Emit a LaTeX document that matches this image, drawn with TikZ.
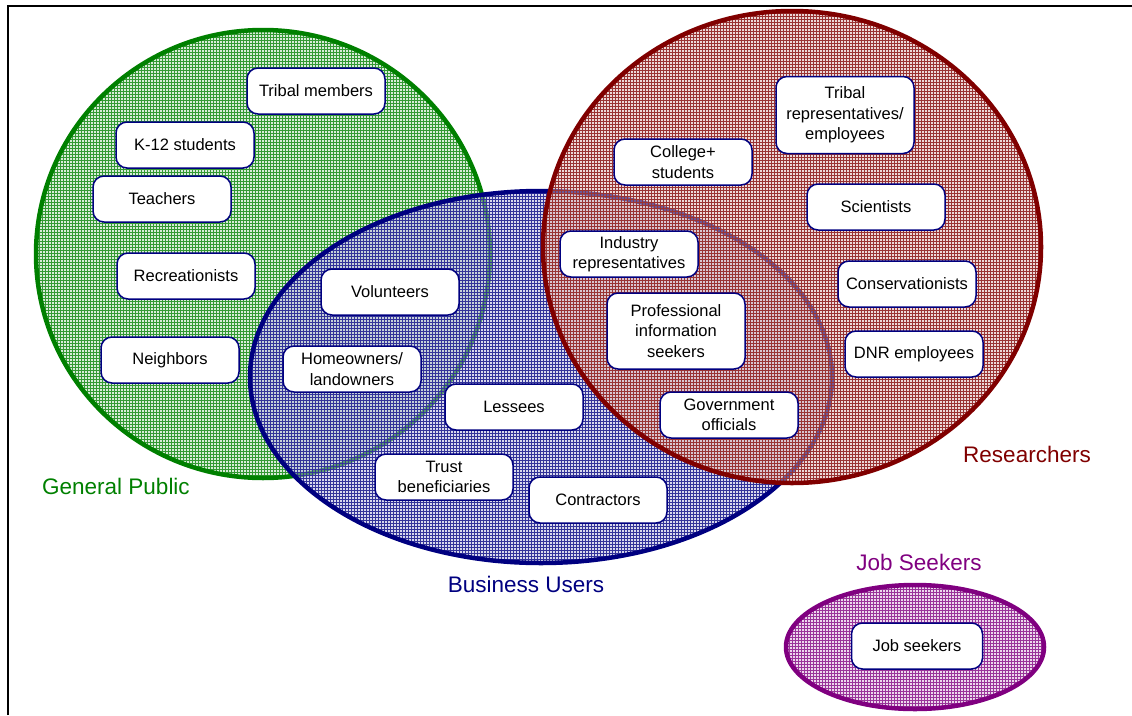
\documentclass[tikz,border=0pt]{standalone}
\usepackage{fontspec}
\setmainfont{Liberation Sans}
\usetikzlibrary{patterns}

\definecolor{gpgreen}{RGB}{0,128,0}
\definecolor{bunavy}{RGB}{0,0,128}
\definecolor{rsred}{RGB}{128,0,0}
\definecolor{jspurple}{RGB}{128,0,128}

% one audience set: tinted fill, grid hatching, thick outline
\newcommand{\audienceset}[4]{%
  \fill[#1!30, fill opacity=0.5] #2 ellipse [x radius=#3, y radius=#4];
  \fill[pattern=grid, pattern color=#1!80, fill opacity=0.35] #2 ellipse [x radius=#3, y radius=#4];
  \draw[#1, line width=4.5pt] #2 ellipse [x radius=#3, y radius=#4];}

\begin{document}
\begin{tikzpicture}[x=1pt, y=-1pt,
    member/.style={draw=bunavy, line width=1.5pt, fill=white, rounded corners=11pt,
      minimum width=138pt, minimum height=46pt, inner sep=2pt, align=center,
      font=\fontsize{16.5}{20.5}\selectfont},
    setname/.style={font=\fontsize{22.5}{26}\selectfont}]
  \useasboundingbox (0,0) rectangle (1132,715);

  % frame lines
  \draw[line width=2pt] (8,715) -- (8,6) -- (1132,6);

  % the four sets
  \audienceset{gpgreen}{(263,254)}{227}{224}
  \audienceset{bunavy}{(541,377)}{291}{186}
  \audienceset{rsred}{(792,247)}{249}{236}
  \audienceset{jspurple}{(915,647)}{129}{62}

  % set names
  \node[setname, text=gpgreen] (public) at (116,486) {General Public};
  \node[setname, text=bunavy] (business) at (526,584) {Business Users};
  \node[setname, text=rsred] (research) at (1027,454) {Researchers};
  \node[setname, text=jspurple] (jobs) at (919,562) {Job Seekers};

  % General Public
  \node[member] (tribal) at (316,91) {Tribal members};
  \node[member] (k12) at (185,145) {K-12 students};
  \node[member] (teachers) at (162,199) {Teachers};
  \node[member] (recreation) at (186,276) {Recreationists};
  \node[member] (neighbors) at (170,360) {Neighbors};

  % General Public + Business Users
  \node[member] (volunteers) at (390,292) {Volunteers};
  \node[member] (owners) at (352,369) {Homeowners/\\landowners};

  % Business Users
  \node[member] (lessees) at (514,407) {Lessees};
  \node[member] (trust) at (444,477) {Trust\\beneficiaries};
  \node[member] (contractors) at (598,500) {Contractors};

  % Business Users + Researchers
  \node[member] (industry) at (629,254) {Industry\\representatives};
  \node[member, minimum height=76pt] (infoseek) at (676,331) {Professional\\information\\seekers};
  \node[member] (government) at (729,415) {Government\\officials};

  % Researchers
  \node[member] (college) at (683,162) {College+\\students};
  \node[member, minimum height=77pt] (tribalrep) at (845,115) {Tribal\\representatives/\\employees};
  \node[member] (scientists) at (876,207) {Scientists};
  \node[member] (conservation) at (907,284) {Conservationists};
  \node[member] (dnr) at (914,354) {DNR employees};

  % Job Seekers
  \node[member, minimum width=131pt] (seekers) at (917,646) {Job seekers};
\end{tikzpicture}
\end{document}
